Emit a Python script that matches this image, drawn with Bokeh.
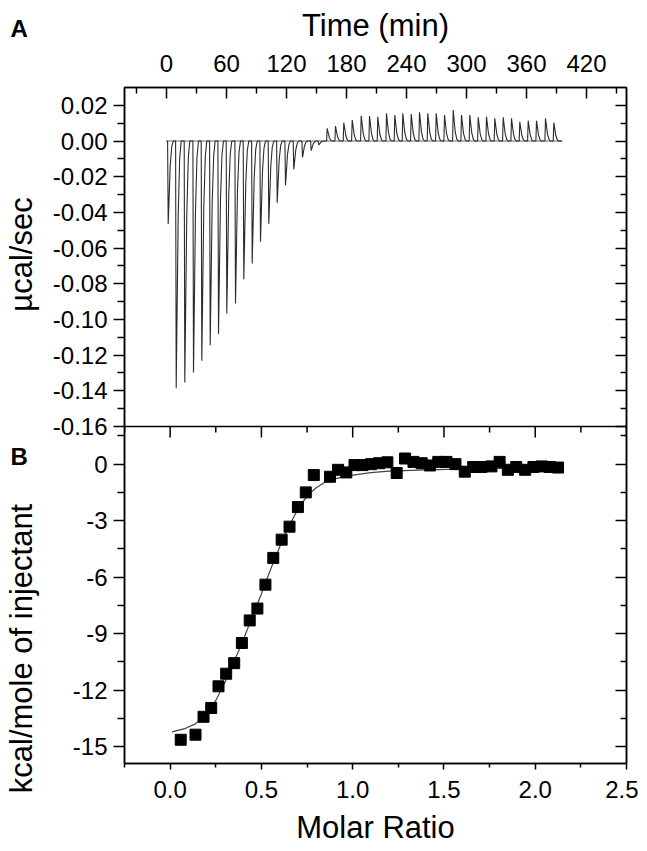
import math
from bokeh.plotting import figure
from bokeh.models import (LinearAxis, FixedTicker, PrintfTickFormatter, Range1d,
                          Label, CustomJSTickFormatter, Span)
from bokeh.layouts import row
from bokeh.embed import file_html
from bokeh.resources import INLINE

FONT = "Liberation Sans"

# ---------------- data: panel A (raw ITC thermogram) ----------------
inj_time = [1.7, 9.7, 18.3, 27.0, 35.3, 43.7, 52.0, 60.3, 69.0, 77.3, 85.7, 94.0,
            102.3, 110.7, 119.0, 127.3, 136.0, 144.7, 152.3, 160.7, 169.0, 177.3,
            185.7, 194.7, 203.0, 211.3, 220.0, 228.3, 236.3, 244.7, 253.0, 261.3,
            269.7, 278.0, 286.7, 295.0, 303.3, 311.7, 320.0, 328.3, 336.7, 345.0,
            353.3, 361.7, 370.0, 379.0, 387.3]
inj_peak = [-0.0465, -0.1386, -0.1353, -0.1297, -0.1231, -0.1145, -0.1082, -0.0966,
            -0.0910, -0.0775, -0.0686, -0.0564, -0.0463, -0.0346, -0.0248, -0.0159,
            -0.0092, -0.0054, -0.0022, 0.0071, 0.0084, 0.0103, 0.0118, 0.0142,
            0.0140, 0.0136, 0.0155, 0.0146, 0.0155, 0.0151, 0.0161, 0.0155, 0.0155,
            0.0146, 0.0174, 0.0146, 0.0146, 0.0133, 0.0136, 0.0127, 0.0133, 0.0127,
            0.0108, 0.0114, 0.0114, 0.0127, 0.0103]
trace_start = 0.0
trace_end = 395.7
baseline_t = [0.0, 395.7]
baseline_v = [0.0, 0.0]

time_ticks = [0, 60, 120, 180, 240, 300, 360, 420]
time_minor = [-30, 30, 90, 150, 210, 270, 330, 390, 450]
power_ticks = [-0.16, -0.14, -0.12, -0.10, -0.08, -0.06, -0.04, -0.02, 0.00, 0.02]
power_minor = [-0.15, -0.13, -0.11, -0.09, -0.07, -0.05, -0.03, -0.01, 0.01]

# ---------------- data: panel B (integrated heats) ----------------
molar_ratio = [0.058, 0.139, 0.183, 0.225, 0.265, 0.307, 0.351, 0.393, 0.436, 0.478,
               0.522, 0.565, 0.611, 0.654, 0.700, 0.743, 0.787, 0.876, 0.920, 0.965,
               1.010, 1.054, 1.100, 1.145, 1.190, 1.241, 1.287, 1.333, 1.378, 1.423,
               1.469, 1.514, 1.563, 1.614, 1.660, 1.705, 1.760, 1.805, 1.850, 1.896,
               1.945, 1.990, 2.035, 2.080, 2.125]
heat = [-14.64, -14.37, -13.42, -12.95, -11.80, -11.13, -10.57, -9.50, -8.30, -7.67,
        -6.40, -4.98, -4.01, -3.32, -2.28, -1.50, -0.58, -0.67, -0.30, -0.44,
        -0.05, -0.05, 0.00, 0.05, 0.10, -0.47, 0.30, 0.12, 0.05, -0.07,
        0.12, 0.12, 0.00, -0.40, -0.15, -0.15, -0.12, 0.12, -0.30, -0.15,
        -0.30, -0.15, -0.12, -0.15, -0.18]
fit_x = [0.01, 0.08, 0.14, 0.20, 0.25, 0.30, 0.35, 0.40, 0.45, 0.50, 0.55, 0.60,
         0.65, 0.70, 0.75, 0.80, 0.85, 0.90, 1.00, 1.10, 1.20, 1.40, 1.70, 2.13]
fit_y = [-14.22, -14.05, -13.78, -13.30, -12.55, -11.60, -10.50, -9.35, -8.10, -6.90,
         -5.60, -4.40, -3.30, -2.40, -1.70, -1.25, -0.95, -0.78, -0.58, -0.45,
         -0.37, -0.30, -0.24, -0.20]

ratio_ticks = [0.0, 0.5, 1.0, 1.5, 2.0, 2.5]
ratio_minor = [-0.25, 0.25, 0.75, 1.25, 1.75, 2.25]
heat_ticks = [-15, -12, -9, -6, -3, 0]
heat_minor = [-13.5, -10.5, -7.5, -4.5, -1.5, 1.5]

# ---------------- panel geometry (two stacked panels in one frame) ----------------
TIME_LO, TIME_HI = -42.0, 460.0
RATIO_LO, RATIO_HI = -0.25, 2.5
POWER_LO, POWER_HI = -0.16, 0.03
HEAT_LO, HEAT_HI = -15.9, 2.0
TOP_H, BOT_H, FRAME_W = 339, 337, 502
FRAME_H = TOP_H + BOT_H

heat_top = HEAT_HI + (HEAT_HI - HEAT_LO) * TOP_H / BOT_H        # full-frame heat range
power_bottom = POWER_LO - (POWER_HI - POWER_LO) * BOT_H / TOP_H  # full-frame power range
k_power = (heat_top - HEAT_HI) / (POWER_HI - POWER_LO)           # heat units per power unit
px_per_heat = FRAME_H / (heat_top - HEAT_LO)


def power_to_axis(v):
    return HEAT_HI + (v - POWER_LO) * k_power


left_major = heat_ticks + [power_to_axis(v) for v in power_ticks]
left_minor = heat_minor + [power_to_axis(v) for v in power_minor]

# ---------------- build thermogram trace from injection list ----------------
shape_dt = [-0.6, 0.0, 2.0, 3.5, 5.0]
shape_f = [0.0, 1.0, 0.30, 0.07, 0.0]
trace_t = [trace_start]
trace_v = [0.0]
for t, h in zip(inj_time, inj_peak):
    for dt, f in zip(shape_dt, shape_f):
        trace_t.append(t + dt)
        trace_v.append(h * f)
trace_t.append(trace_end)
trace_v.append(0.0)

TICK_PX = "24px"
TITLE_PX = "31px"


def style_axis(ax, ticks, minor, t_in, t_out, m_in, m_out, formatter=None,
               standoff=6):
    ax.ticker = FixedTicker(ticks=ticks, minor_ticks=minor)
    ax.axis_line_color = "black"
    ax.axis_line_width = 1.5
    ax.major_tick_line_color = "black"
    ax.major_tick_line_width = 1.5
    ax.minor_tick_line_color = "black"
    ax.minor_tick_line_width = 1.5
    ax.major_tick_in = t_in
    ax.major_tick_out = t_out
    ax.minor_tick_in = m_in
    ax.minor_tick_out = m_out
    if formatter is not None:
        ax.formatter = formatter
        ax.major_label_text_font = FONT
        ax.major_label_text_font_size = TICK_PX
        ax.major_label_text_color = "black"
        ax.major_label_standoff = standoff
    else:
        ax.formatter = CustomJSTickFormatter(code="return ''")
        ax.major_label_text_font_size = "0px"
        ax.major_label_standoff = 0
    ax.axis_label_text_font = FONT
    ax.axis_label_text_font_size = TITLE_PX
    ax.axis_label_text_font_style = "normal"
    ax.axis_label_text_color = "black"


# ---------------- main figure ----------------
p = figure(frame_width=FRAME_W, frame_height=FRAME_H,
           x_range=Range1d(RATIO_LO, RATIO_HI), y_range=Range1d(HEAT_LO, heat_top),
           output_backend="svg", toolbar_location=None,
           min_border_left=80, min_border_right=12, min_border_top=87,
           min_border_bottom=87, frame_align=False)
p.extra_x_ranges = {"time": Range1d(TIME_LO, TIME_HI)}
p.extra_y_ranges = {"power": Range1d(power_bottom, POWER_HI)}
p.grid.visible = False
p.outline_line_color = "black"
p.outline_line_width = 1.5

# bottom axis: molar ratio
style_axis(p.xaxis[0], ratio_ticks, ratio_minor, 0, 6, 0, 4,
           PrintfTickFormatter(format="%.1f"), standoff=11)
p.xaxis[0].axis_label = "Molar Ratio"
p.xaxis[0].axis_label_standoff = 9

# top axis: time
ax_time = LinearAxis(x_range_name="time")
style_axis(ax_time, time_ticks, time_minor, 11, 0, 6, 0,
           PrintfTickFormatter(format="%d"), standoff=16)
ax_time.axis_label = "Time (min)"
ax_time.axis_label_standoff = 9
p.add_layout(ax_time, "above")

# left axis: both panels' ticks
left_fmt = CustomJSTickFormatter(
    args=dict(split=HEAT_HI, k=k_power, p0=POWER_LO),
    code="""
    if (tick > split - 1e-6) {
        const v = Math.round(((tick - split) / k + p0) * 100) / 100;
        return v.toFixed(2);
    }
    return Math.round(tick).toString();
    """)
style_axis(p.yaxis[0], left_major, left_minor, 0, 11, 0, 7, left_fmt, standoff=6)

# right axis: inward ticks only
ax_right = LinearAxis()
style_axis(ax_right, left_major, left_minor, 11, 0, 6, 0)
p.add_layout(ax_right, "right")

# divider between the panels with inward ticks for panel B's top edge
p.add_layout(Span(location=HEAT_HI, dimension="width", line_color="black",
                  line_width=1.5))
maj_len = 11 / px_per_heat
min_len = 6 / px_per_heat
p.segment(x0=ratio_ticks, y0=[HEAT_HI] * len(ratio_ticks), x1=ratio_ticks,
          y1=[HEAT_HI - maj_len] * len(ratio_ticks), line_color="black", line_width=1.5)
p.segment(x0=ratio_minor, y0=[HEAT_HI] * len(ratio_minor), x1=ratio_minor,
          y1=[HEAT_HI - min_len] * len(ratio_minor), line_color="black", line_width=1.5)

# panel A glyphs
p.line(baseline_t, baseline_v, x_range_name="time", y_range_name="power",
       line_color="#555555", line_width=0.9)
p.line(trace_t, trace_v, x_range_name="time", y_range_name="power",
       line_color="#2a2a2a", line_width=1.1)

# panel B glyphs
p.line(fit_x, fit_y, line_color="#444444", line_width=1.2)
p.scatter(molar_ratio, heat, marker="square", size=11, color="black")

# ---------------- side strip holding panel letters and y titles ----------------
STRIP_W = 44
STRIP_H = 850
side = figure(frame_width=STRIP_W, frame_height=STRIP_H,
              x_range=Range1d(0, STRIP_W), y_range=Range1d(STRIP_H, 0),
              x_axis_location=None, y_axis_location=None,
              output_backend="svg", toolbar_location=None, min_border=0,
              frame_align=False)
side.grid.visible = False
side.outline_line_color = None

side.add_layout(Label(x=10, y=28, text="A", text_font=FONT, text_font_style="bold",
                      text_font_size="24px", text_baseline="middle",
                      text_color="black"))
side.add_layout(Label(x=10, y=456, text="B", text_font=FONT, text_font_style="bold",
                      text_font_size="24px", text_baseline="middle",
                      text_color="black"))
side.add_layout(Label(x=21, y=254, text="µcal/sec", angle=math.pi / 2,
                      text_font=FONT, text_font_size=TITLE_PX, text_align="center",
                      text_baseline="middle", text_color="black"))
side.add_layout(Label(x=21, y=648, text="kcal/mole of injectant", angle=math.pi / 2,
                      text_font=FONT, text_font_size=TITLE_PX, text_align="center",
                      text_baseline="middle", text_color="black"))

layout = row(side, p, spacing=0)
open("out.html", "w").write(file_html(layout, INLINE))
